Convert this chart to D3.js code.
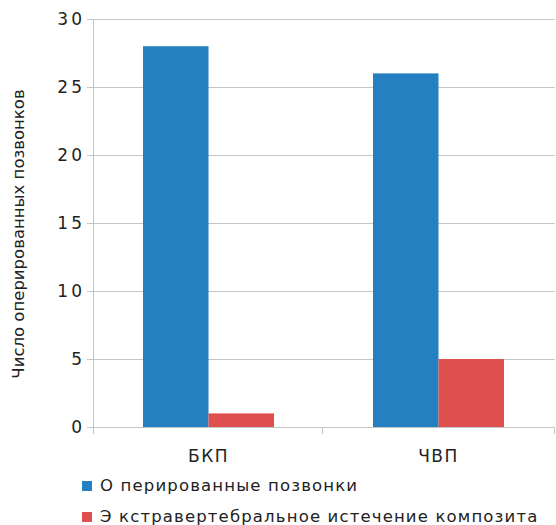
<!DOCTYPE html>
<html>
<head>
<meta charset="utf-8">
<script src="https://cdn.jsdelivr.net/npm/d3@7"></script>
<style>
body { margin: 0; background: #fff; }
text { font-family: "DejaVu Sans", Verdana, sans-serif; fill: #222; }
</style>
</head>
<body>
<div class="chart"></div>
<script>
var categories = ['БКП', 'ЧВП'];
var seriesNames = ['О перированные позвонки', 'Э кстравертебральное истечение композита'];
var operated = [28, 26];
var leakage = [1, 5];
var yTicks = [0, 5, 10, 15, 20, 25, 30];
var colors = ['#2480c0', '#e04f4f'];

var w = 556, h = 525;
var svg = d3.select('.chart')
	.append('svg')
	.attr('width', w)
	.attr('height', h);

var x = d3.scaleBand().domain(categories).range([93, 553]);
var y = d3.scaleLinear().domain([0, 30]).range([427, 19]);

// grid
svg.selectAll('line.grid')
	.data(yTicks)
	.enter()
	.append('line')
	.attr('x1', 87).attr('x2', 555)
	.attr('y1', function(d){ return y(d) + 0.5; })
	.attr('y2', function(d){ return y(d) + 0.5; })
	.style('stroke', '#c4c4c4');

svg.append('line')
	.attr('x1', 93.5).attr('x2', 93.5)
	.attr('y1', 19).attr('y2', 434)
	.style('stroke', '#c4c4c4');

svg.selectAll('line.ctick')
	.data([x('ЧВП'), 555])
	.enter()
	.append('line')
	.attr('x1', function(d){ return Math.round(d) - 0.5; })
	.attr('x2', function(d){ return Math.round(d) - 0.5; })
	.attr('y1', 427).attr('y2', 434)
	.style('stroke', '#c4c4c4');

svg.selectAll('text.ytick')
	.data(yTicks)
	.enter()
	.append('text')
	.attr('x', 85)
	.attr('y', function(d){ return y(d) + 6; })
	.attr('text-anchor', 'end')
	.style('font-size', '17px')
	.style('letter-spacing', '3px')
	.text(function(d){ return d; });

// bars
var barW = 65.5;
var rows = categories.map(function(c, i){ return {cat: c, vals: [operated[i], leakage[i]]}; });
var groups = svg.selectAll('g.cat')
	.data(rows)
	.enter()
	.append('g')
	.attr('transform', function(d){ return 'translate(' + (x(d.cat) + 50) + ',0)'; });

groups.selectAll('rect')
	.data(function(d){ return d.vals; })
	.enter()
	.append('rect')
	.attr('x', function(d, i){ return i * barW; })
	.attr('y', function(d){ return y(d); })
	.attr('width', barW)
	.attr('height', function(d){ return y(0) - y(d); })
	.style('fill', function(d, i){ return colors[i]; });

svg.selectAll('text.cat')
	.data(categories)
	.enter()
	.append('text')
	.attr('x', function(d){ return x(d) + 50 + barW; })
	.attr('y', 462)
	.attr('text-anchor', 'middle')
	.style('font-size', '17px')
	.style('letter-spacing', '1.5px')
	.text(function(d){ return d; });

svg.append('text')
	.attr('transform', 'translate(24,234) rotate(-90)')
	.attr('text-anchor', 'middle')
	.style('font-size', '16.5px')
	.text('Число оперированных позвонков');

// legend
var legend = svg.selectAll('g.legend')
	.data(seriesNames)
	.enter()
	.append('g')
	.attr('transform', function(d, i){ return 'translate(82,' + (481 + i * 31) + ')'; });
legend.append('rect')
	.attr('width', 10).attr('height', 10)
	.style('fill', function(d, i){ return colors[i]; });
legend.append('text')
	.attr('x', 18).attr('y', 10)
	.style('font-size', '16.5px')
	.style('letter-spacing', '1.15px')
	.text(function(d){ return d; });
</script>
</body>
</html>
